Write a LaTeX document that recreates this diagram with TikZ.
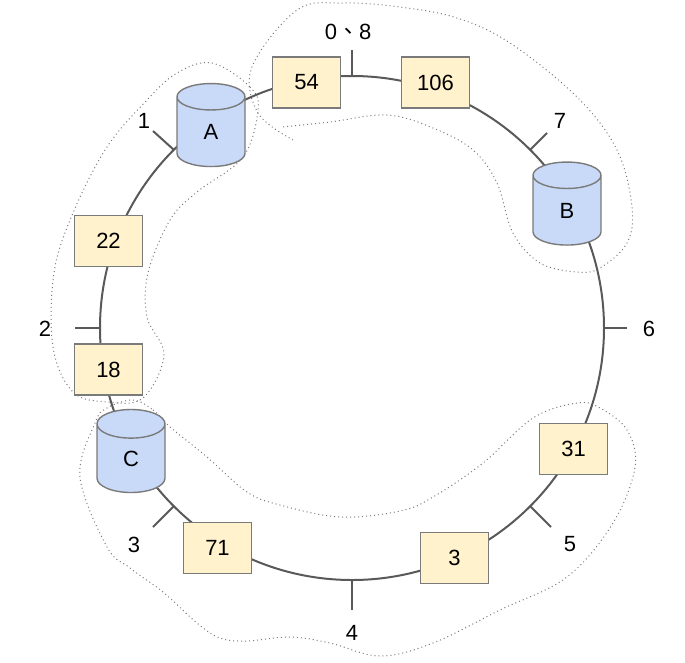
\documentclass[tikz,border=0pt]{standalone}
\usepackage{fontspec}
\setmainfont{Liberation Sans}
\newfontfamily\cjkfont{Noto Sans CJK TC}
\usetikzlibrary{shapes.geometric}

\definecolor{ringgray}{HTML}{595959}
\definecolor{boxfill}{HTML}{FFF2CC}
\definecolor{diskfill}{HTML}{C9DAF8}

\tikzset{
  ringline/.style={draw=ringgray, line width=2pt},
  slotbox/.style={draw=ringgray!80, line width=1.4pt, fill=boxfill, minimum width=68pt, minimum height=51pt, inner sep=0pt},
  diskcyl/.style={cylinder, shape border rotate=90, aspect=1.8, draw=ringgray!80, line width=1.4pt, cylinder uses custom fill, cylinder body fill=diskfill, cylinder end fill=diskfill, minimum width=68pt, minimum height=83pt, inner sep=0pt},
  ticklabel/.style={inner sep=0pt},
  groupline/.style={draw=ringgray!80, line width=1pt, dash pattern=on 1pt off 3pt}
}

\begin{document}
\begin{tikzpicture}[x=1pt, y=-1pt, font=\fontsize{22}{26}\selectfont]
  \useasboundingbox (0,0) rectangle (685,662);

  % Dotted groups
  \draw[groupline] plot[smooth cycle, tension=0.6] coordinates {(212,63) (250,87) (258,110) (243,157) (197,192) (170,220) (148,273) (147,317) (164,355) (143,398) (108,402) (73,392) (53,347) (54,273) (73,213) (107,147) (147,100) (177,73)};
  \draw[groupline] plot[smooth, tension=0.6] coordinates {(293,140) (258,113) (252,67) (297,10) (343,3) (400,7) (457,18) (510,43) (577,97) (617,150) (632,207) (627,243) (600,268) (577,272) (540,263) (513,233) (497,183) (473,150) (433,128) (387,115) (330,122) (282,127)};
  \draw[groupline] plot[smooth cycle, tension=0.6] coordinates {(133,400) (153,410) (170,427) (207,457) (247,492) (280,505) (340,517) (400,511) (433,497) (483,463) (533,418) (577,403) (600,408) (627,430) (635,467) (613,523) (567,577) (500,610) (433,643) (380,656) (330,643) (290,637) (247,641) (220,638) (197,623) (163,592) (130,568) (107,547) (80,477) (95,423) (107,408)};

  % Ring
  \node[ringline, circle, minimum size=504pt, inner sep=0pt, outer sep=0pt] (ring) at (352,328) {};

  % Ticks on the ring
  \coordinate (tick0) at (352,50);
  \coordinate (tick1) at (153,131);
  \coordinate (tick2) at (75,328);
  \coordinate (tick3) at (153,527);
  \coordinate (tick4) at (352,610);
  \coordinate (tick5) at (551,527);
  \coordinate (tick6) at (627,328);
  \coordinate (tick7) at (547,133);
  \foreach \tickname/\ang in {tick0/90, tick1/135, tick2/180, tick3/225, tick4/270, tick5/315, tick6/0, tick7/45}
    \draw[ringline] (ring.\ang) -- (\tickname);

  % Tick numbers
  \node[ticklabel] (num0) at (348,32) {0{\cjkfont 、}8};
  \node[ticklabel] (num1) at (144,120.5) {1};
  \node[ticklabel] (num2) at (45,328.5) {2};
  \node[ticklabel] (num3) at (134,544.5) {3};
  \node[ticklabel] (num4) at (352,632.5) {4};
  \node[ticklabel] (num5) at (570,544.5) {5};
  \node[ticklabel] (num6) at (649,328.5) {6};
  \node[ticklabel] (num7) at (560,120.5) {7};

  % Keys on the ring
  \node[slotbox] (key54) at (306.5,82.5) {54};
  \node[slotbox] (key106) at (435.5,82.5) {106};
  \node[slotbox] (key22) at (108.5,241) {22};
  \node[slotbox] (key18) at (108.5,369.5) {18};
  \node[slotbox] (key71) at (217.5,548) {71};
  \node[slotbox] (key3) at (454.5,558) {3};
  \node[slotbox] (key31) at (573.5,449) {31};

  % Servers on the ring
  \node[diskcyl] (diskA) at (211,132) {A};
  \node[diskcyl] (diskB) at (567,210.5) {B};
  \node[diskcyl] (diskC) at (131,458.5) {C};
\end{tikzpicture}
\end{document}
